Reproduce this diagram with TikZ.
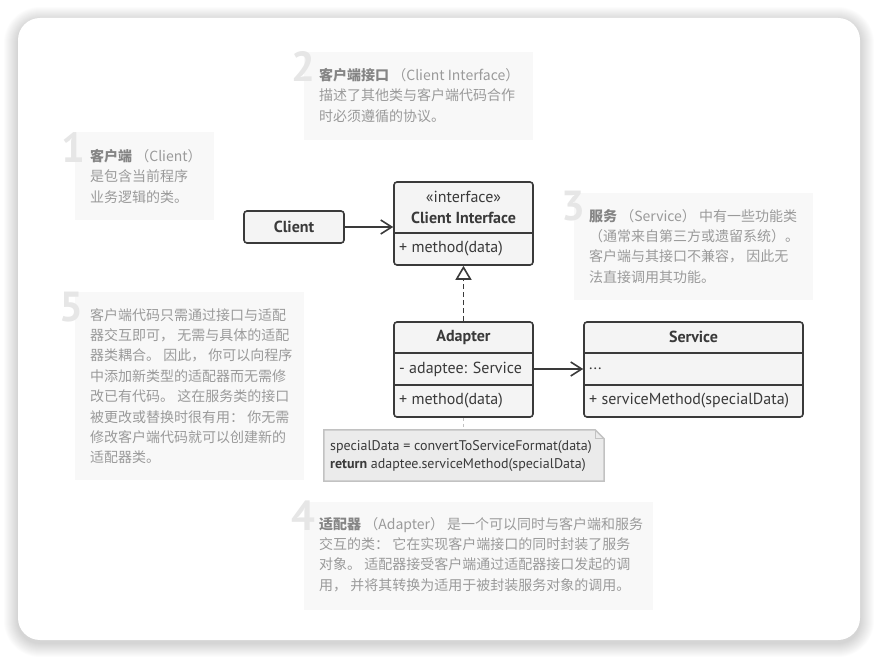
\documentclass[tikz,border=0pt]{standalone}
\usepackage{fontspec}
\setmainfont{PT Sans}
\newfontfamily\cjk{Noto Sans CJK SC}
\usetikzlibrary{arrows.meta}

\definecolor{inkline}{HTML}{3A3A3A}
\definecolor{boxfill}{HTML}{F4F4F4}
\definecolor{notefill}{HTML}{EBEBEB}
\definecolor{noteline}{HTML}{C2C2C2}
\definecolor{tipfill}{HTML}{F8F8F8}
\definecolor{tiptext}{HTML}{9A9A9A}
\definecolor{tipbold}{HTML}{858585}
\definecolor{tipnum}{HTML}{E6E6E6}

\tikzset{
  umlbox/.style={draw=inkline, fill=boxfill, line width=1.6pt, rounded corners=3pt, inner sep=0pt},
  umlline/.style={draw=inkline, line width=1.6pt},
  umltext/.style={inner sep=0pt, text=inkline, font=\fontsize{16}{18}\selectfont},
  umlname/.style={umltext, font=\fontsize{16}{18}\selectfont\bfseries},
  assoc/.style={-{Straight Barb[length=11pt,width=14pt]}, line width=1.6pt, draw=inkline},
  realize/.style={-{Triangle[open,length=14pt,width=16pt,fill=white]}, line width=1.6pt, draw=inkline, dash pattern=on 5pt off 3pt},
  notelink/.style={draw=noteline, line width=1.5pt, dash pattern=on 3pt off 3pt},
  tipbox/.style={fill=tipfill, inner sep=0pt, anchor=north west},
  tipnum/.style={inner sep=0pt, anchor=base east, text=tipnum, font=\fontsize{42}{42}\selectfont\bfseries},
  tiptext/.style={inner sep=0pt, anchor=north west, align=left, text=tiptext, font=\cjk\fontsize{14}{20.4}\selectfont}
}
\newcommand{\tipterm}[1]{\textcolor{tipbold}{\bfseries #1}}

\begin{document}
\begin{tikzpicture}[x=1pt, y=-1pt]
  \useasboundingbox (0,0) rectangle (879,660);
  \fill[white] (0,0) rectangle (879,660);
  % card with soft shadow
  \foreach \s [evaluate=\s as \r using 22+\s] in {1,...,14}
    \fill[black, opacity=0.012, rounded corners=\r] (18-\s,21-\s) rectangle (860+\s,643+\s);
  \fill[white, rounded corners=22] (18,18) rectangle (860,640);

  % notes
  \node[tipbox, minimum width=139, minimum height=88] (tip1) at (75,132) {};
  \node[tipnum] (num1) at (86,163) {1};
  \node[tiptext] (txt1) at (90,149) {\tipterm{客户端} （Client）\\是包含当前程序\\业务逻辑的类。};

  \node[tipbox, minimum width=229, minimum height=88] (tip2) at (304,52) {};
  \node[tipnum] (num2) at (316,82) {2};
  \node[tiptext] (txt2) at (319,68) {\tipterm{客户端接口} （Client Interface）\\描述了其他类与客户端代码合作\\时必须遵循的协议。};

  \node[tipbox, minimum width=239, minimum height=107] (tip3) at (574,193) {};
  \node[tipnum] (num3) at (586,221) {3};
  \node[tiptext] (txt3) at (589,209) {\tipterm{服务} （Service） 中有一些功能类\\（通常来自第三方或遗留系统）。\\客户端与其接口不兼容， 因此无\\法直接调用其功能。};

  \node[tipbox, minimum width=349, minimum height=108] (tip4) at (304,502) {};
  \node[tipnum] (num4) at (316,530) {4};
  \node[tiptext] (txt4) at (319,517) {\tipterm{适配器} （Adapter） 是一个可以同时与客户端和服务\\交互的类： 它在实现客户端接口的同时封装了服务\\对象。 适配器接受客户端通过适配器接口发起的调\\用， 并将其转换为适用于被封装服务对象的调用。};

  \node[tipbox, minimum width=229, minimum height=188] (tip5) at (75,292) {};
  \node[tipnum] (num5) at (84,322) {5};
  \node[tiptext] (txt5) at (90,308) {客户端代码只需通过接口与适配\\器交互即可， 无需与具体的适配\\器类耦合。 因此， 你可以向程序\\中添加新类型的适配器而无需修\\改已有代码。 这在服务类的接口\\被更改或替换时很有用： 你无需\\修改客户端代码就可以创建新的\\适配器类。};

  % classes
  \node[umlbox, minimum width=100, minimum height=32] (client) at (294,227) {};
  \node[umlname] (clientname) at (client.center) {Client};

  \node[umlbox, minimum width=139, minimum height=83] (ci) at (463.5,223.5) {};
  \draw[umlline] (ci.west |- 0,233) -- (ci.east |- 0,233);
  \node[umltext] (cistereo) at (463.5,197) {«interface»};
  \node[umlname] (ciname) at (463.5,218) {Client Interface};
  \node[umltext, anchor=west] (cimethod) at (399,249) {+ method(data)};

  \node[umlbox, minimum width=139, minimum height=95] (adapter) at (463.5,369.5) {};
  \draw[umlline] (adapter.west |- 0,353) -- (adapter.east |- 0,353);
  \draw[umlline] (adapter.west |- 0,385) -- (adapter.east |- 0,385);
  \node[umlname] (adname) at (463.5,337) {Adapter};
  \node[umltext, anchor=west] (adattr) at (399,369) {- adaptee: Service};
  \node[umltext, anchor=west] (admethod) at (399,401) {+ method(data)};

  \node[umlbox, minimum width=219, minimum height=95] (service) at (693.5,369.5) {};
  \draw[umlline] (service.west |- 0,353) -- (service.east |- 0,353);
  \draw[umlline] (service.west |- 0,385) -- (service.east |- 0,385);
  \node[umlname] (svname) at (693.5,337) {Service};
  \node[umltext, anchor=west] (svattr) at (589,369) {...};
  \node[umltext, anchor=west] (svmethod) at (589,401) {+ serviceMethod(specialData)};

  % code note
  \node[inner sep=0pt, minimum width=280, minimum height=51] (note) at (464,455.5) {};
  \draw[fill=notefill, draw=noteline, line width=1.5pt] (note.north west) -- ([xshift=-9pt]note.north east) -- ([yshift=-9pt]note.north east) -- (note.south east) -- (note.south west) -- cycle;
  \draw[draw=noteline, line width=1.2pt] ([xshift=-9pt]note.north east) -- ([xshift=-9pt,yshift=-9pt]note.north east) -- ([yshift=-9pt]note.north east);
  \node[inner sep=0pt, anchor=west, align=left, text=inkline, font=\fontsize{14}{18}\selectfont] (notetext) at (330,456) {specialData = convertToServiceFormat(data)\\\textbf{return} adaptee.serviceMethod(specialData)};

  % relations
  \draw[assoc] (client.east) -- (ci.west |- client.east);
  \draw[realize] (adapter.north) -- (ci.south);
  \draw[assoc] (adapter.east |- adattr) -- (service.west |- adattr);
  \draw[notelink] (adapter.south) -- (note.north -| adapter.south);
\end{tikzpicture}
\end{document}
